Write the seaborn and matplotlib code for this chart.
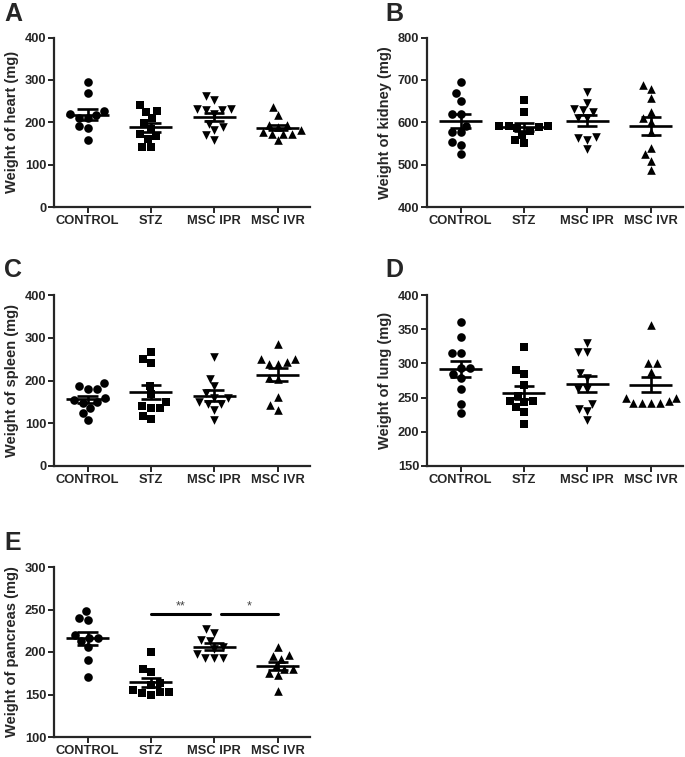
import numpy as np
import pandas as pd
import matplotlib
matplotlib.use("Agg")
import matplotlib.pyplot as plt
import seaborn as sns

groups = ["CONTROL", "STZ", "MSC IPR", "MSC IVR"]
markers = ["o", "s", "v", "^"]

# Heart (mg)
heart_control = [295, 269, 226, 220, 216, 211, 211, 190, 187, 157]
heart_stz = [240, 224, 226, 209, 198, 185, 173, 167, 161, 142, 142]
heart_ipr = [261, 252, 232, 230, 232, 230, 220, 197, 189, 181, 169, 159]
heart_ivr = [236, 218, 193, 193, 189, 181, 177, 173, 173, 157, 172]

# Kidney (mg)
kidney_control = [696, 668, 651, 620, 620, 592, 576, 578, 553, 547, 524]
kidney_stz = [653, 625, 590, 590, 587, 588, 590, 570, 580, 557, 550]
kidney_ipr = [672, 646, 628, 631, 625, 610, 610, 562, 565, 558, 537]
kidney_ivr = [689, 679, 657, 624, 610, 600, 577, 539, 524, 508, 487]

# Spleen (mg)
spleen_control = [193, 186, 180, 180, 160, 154, 150, 147, 136, 125, 108]
spleen_stz = [267, 250, 242, 188, 168, 150, 141, 135, 135, 118, 110]
spleen_ipr = [256, 204, 186, 170, 160, 158, 149, 145, 145, 131, 108]
spleen_ivr = [285, 250, 250, 239, 239, 243, 205, 203, 162, 143, 131]

# Lung (mg)
lung_control = [361, 339, 315, 315, 294, 294, 285, 278, 263, 241, 228]
lung_stz = [324, 291, 285, 269, 253, 245, 243, 245, 236, 229, 211]
lung_ipr = [330, 316, 316, 286, 279, 263, 263, 241, 233, 230, 217]
lung_ivr = [356, 300, 300, 288, 250, 250, 245, 242, 242, 242, 242]

# Pancreas (mg)
pancreas_control = [248, 238, 240, 217, 217, 220, 213, 206, 191, 171]
pancreas_stz = [200, 180, 176, 164, 161, 155, 153, 153, 152, 150]
pancreas_ipr = [227, 222, 213, 214, 206, 204, 198, 193, 193, 193]
pancreas_ivr = [206, 197, 195, 192, 180, 180, 184, 175, 173, 154]

panel_letters = ["A", "B", "C", "D", "E"]
y_labels = ["Weight of heart (mg)", "Weight of kidney (mg)", "Weight of spleen (mg)",
            "Weight of lung (mg)", "Weight of pancreas (mg)"]
y_ranges = [(0, 400, 100), (400, 800, 100), (0, 400, 100), (150, 400, 50), (100, 300, 50)]

# significance annotations for pancreas panel: (group a, group b, text)
sig_pairs = [(1, 2, "**"), (2, 3, "*")]
sig_level = 245

datasets = [
    [heart_control, heart_stz, heart_ipr, heart_ivr],
    [kidney_control, kidney_stz, kidney_ipr, kidney_ivr],
    [spleen_control, spleen_stz, spleen_ipr, spleen_ivr],
    [lung_control, lung_stz, lung_ipr, lung_ivr],
    [pancreas_control, pancreas_stz, pancreas_ipr, pancreas_ivr],
]

sns.set_style("ticks")
plt.rcParams["font.family"] = ["Liberation Sans", "DejaVu Sans"]
plt.rcParams["font.weight"] = "bold"

W, H = 685, 757
fig = plt.figure(figsize=(W / 100, H / 100), dpi=100)

# axes boxes in pixels: left, right, top, bottom
boxes = [
    (54, 310, 37.5, 207),
    (427, 683, 37.5, 207),
    (54, 310, 295, 466),
    (427, 683, 295, 466),
    (54, 310, 567, 737),
]
letter_pos = [(4, 2), (385, 2), (4, 258), (385, 258), (4, 531)]

for k in range(5):
    l, r, t, b = boxes[k]
    ax = fig.add_axes([l / W, 1 - b / H, (r - l) / W, (b - t) / H])
    rows = []
    for g, vals in zip(groups, datasets[k]):
        for v in vals:
            rows.append({"group": g, "value": v})
    df = pd.DataFrame(rows)
    for g, m in zip(groups, markers):
        sns.swarmplot(data=df[df["group"] == g], x="group", y="value", order=groups,
                      marker=m, color="black", size=6.2, ax=ax, linewidth=0)
    # mean and SEM
    for i, vals in enumerate(datasets[k]):
        arr = np.asarray(vals, dtype=float)
        mu = arr.mean()
        se = arr.std(ddof=1) / np.sqrt(len(arr))
        ax.hlines(mu, i - 0.34, i + 0.34, color="black", lw=1.9, zorder=5)
        ax.vlines(i, mu - se, mu + se, color="black", lw=1.9, zorder=5)
        ax.hlines([mu - se, mu + se], i - 0.16, i + 0.16, color="black", lw=1.9, zorder=5)
    lo, hi, st = y_ranges[k]
    ax.set_ylim(lo, hi)
    ax.set_yticks(np.arange(lo, hi + 1, st))
    ax.set_xlim(-0.53, 3.51)
    ax.set_xlabel("")
    ax.set_ylabel(y_labels[k], fontsize=10.5, fontweight="bold", labelpad=4)
    ax.tick_params(axis="y", labelsize=9.3, width=1.4, length=4, pad=1.5)
    ax.tick_params(axis="x", labelsize=9.3, width=1.4, length=4, pad=2)
    for lab in ax.get_xticklabels() + ax.get_yticklabels():
        lab.set_fontweight("bold")
    for s in ["top", "right"]:
        ax.spines[s].set_visible(False)
    for s in ["left", "bottom"]:
        ax.spines[s].set_linewidth(1.6)
    if k == 4:
        for a, bb, txt in sig_pairs:
            x0 = a + (0.0 if a == 1 else 0.1)
            x1 = bb - (0.07 if bb == 2 else 0.0)
            ax.plot([x0, x1], [sig_level, sig_level], color="black", lw=2.2)
            ax.text((x0 + x1) / 2, sig_level + 1.5, txt, ha="center", va="bottom",
                    fontsize=9, color="#444444", fontweight="normal")
    lx, ly = letter_pos[k]
    fig.text(lx / W, 1 - ly / H, panel_letters[k], fontsize=18, fontweight="bold",
             ha="left", va="top")

fig.savefig("out.png", dpi=100)
